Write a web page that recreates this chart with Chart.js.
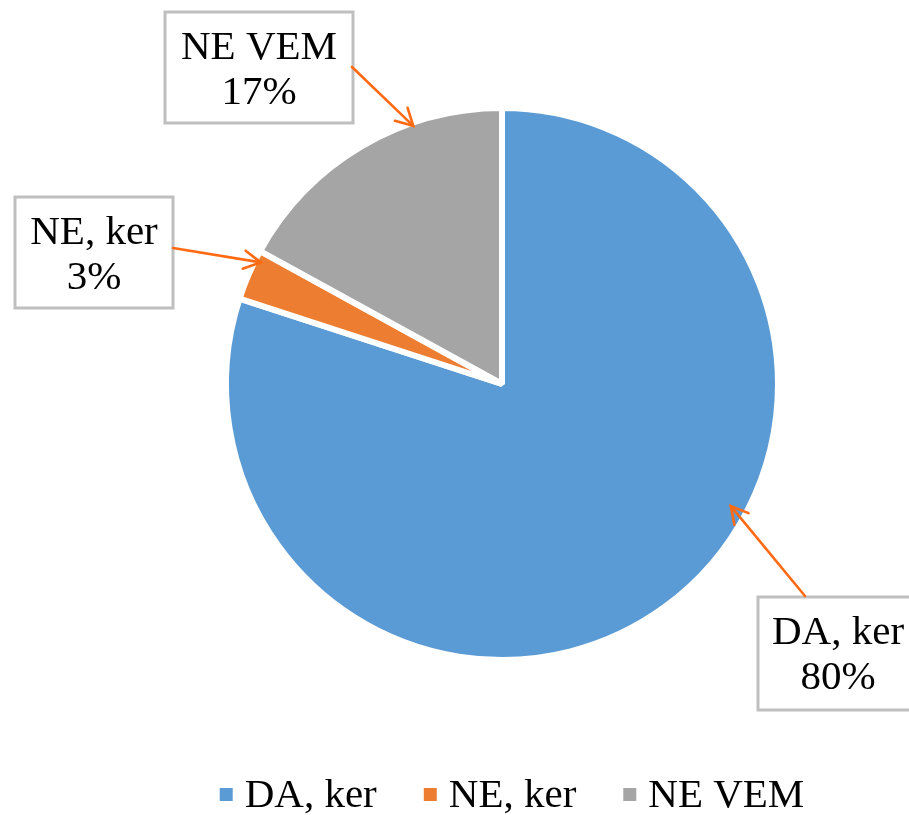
<!DOCTYPE html>
<html>
<head>
<meta charset="utf-8">
<script src="https://cdn.jsdelivr.net/npm/chart.js@4"></script>
<style>
html,body{margin:0;padding:0;background:#fff;}
#wrap{width:909px;height:815px;position:relative;}
</style>
</head>
<body>
<div id="wrap"><canvas id="c" width="909" height="815"></canvas></div>
<script>
const categories = ["DA, ker", "NE, ker", "NE VEM"];
const values = [80, 3, 17];
const percentLabels = ["80%", "3%", "17%"];
const colors = ["#5B9BD5", "#ED7D31", "#A5A5A5"];

// callout layout (box rectangles and arrow anchors inside each slice)
const callouts = [
  {box:[758, 597, 160, 113], from:[805, 596], angFrac:0.41, rFrac:0.95},
  {box:[15, 197, 158, 111], from:[173, 248], angFrac:0.81, rFrac:0.99},
  {box:[165, 12, 188, 111], from:[352, 67], angFrac:0.69, rFrac:1.0}
];

const FONT = "41px 'Liberation Serif', 'Times New Roman', serif";

function arrow(ctx, x1, y1, x2, y2) {
  ctx.save();
  ctx.strokeStyle = "#FF6A13";
  ctx.lineWidth = 2.6;
  ctx.lineCap = "round";
  ctx.beginPath();
  ctx.moveTo(x1, y1);
  ctx.lineTo(x2, y2);
  ctx.stroke();
  const a = Math.atan2(y2 - y1, x2 - x1);
  const L = 19, s = 0.5;
  ctx.beginPath();
  ctx.moveTo(x2 - L * Math.cos(a - s), y2 - L * Math.sin(a - s));
  ctx.lineTo(x2, y2);
  ctx.lineTo(x2 - L * Math.cos(a + s), y2 - L * Math.sin(a + s));
  ctx.stroke();
  ctx.restore();
}

const calloutPlugin = {
  id: 'callouts',
  afterDraw(chart) {
    const ctx = chart.ctx;
    const meta = chart.getDatasetMeta(0);
    meta.data.forEach((arc, i) => {
      const c = callouts[i];
      const p = arc.getProps(['x','y','startAngle','endAngle','outerRadius'], true);
      const ang = p.startAngle + c.angFrac * (p.endAngle - p.startAngle);
      const r = (p.outerRadius - 3) * c.rFrac;
      const tx = p.x + r * Math.cos(ang), ty = p.y + r * Math.sin(ang);
      ctx.save();
      ctx.fillStyle = "#fff";
      ctx.fillRect(c.box[0], c.box[1], c.box[2], c.box[3]);
      ctx.strokeStyle = "#BFBFBF";
      ctx.lineWidth = 3;
      ctx.strokeRect(c.box[0], c.box[1], c.box[2], c.box[3]);
      ctx.fillStyle = "#000";
      ctx.font = FONT;
      ctx.textAlign = "center";
      ctx.textBaseline = "alphabetic";
      const cx = c.box[0] + c.box[2] / 2;
      ctx.fillText(categories[i], cx, c.box[1] + 47);
      ctx.fillText(percentLabels[i], cx, c.box[1] + 92);
      ctx.restore();
      arrow(ctx, c.from[0], c.from[1], tx, ty);
    });
    // legend
    ctx.save();
    ctx.font = FONT;
    ctx.textBaseline = "alphabetic";
    ctx.textAlign = "left";
    const box = 13, gapT = 12, gapI = 47;
    const widths = categories.map(t => ctx.measureText(t).width);
    const total = widths.reduce((a, b) => a + b, 0) + categories.length * (box + gapT) + (categories.length - 1) * gapI;
    let x = 512 - total / 2;
    categories.forEach((t, i) => {
      ctx.fillStyle = colors[i];
      ctx.fillRect(x, 788, box, box);
      x += box + gapT;
      ctx.fillStyle = "#000";
      ctx.fillText(t, x, 807);
      x += widths[i] + gapI;
    });
    ctx.restore();
  }
};

new Chart(document.getElementById('c'), {
  type: 'pie',
  data: {
    labels: categories,
    datasets: [{
      data: values,
      backgroundColor: colors,
      borderColor: "#ffffff",
      borderWidth: 6,
      radius: 276
    }]
  },
  options: {
    responsive: false,
    animation: false,
    layout: { padding: { left: 95, right: 0, top: 0, bottom: 47 } },
    plugins: {
      legend: { display: false },
      tooltip: { enabled: false }
    }
  },
  plugins: [calloutPlugin]
});
</script>
</body>
</html>
